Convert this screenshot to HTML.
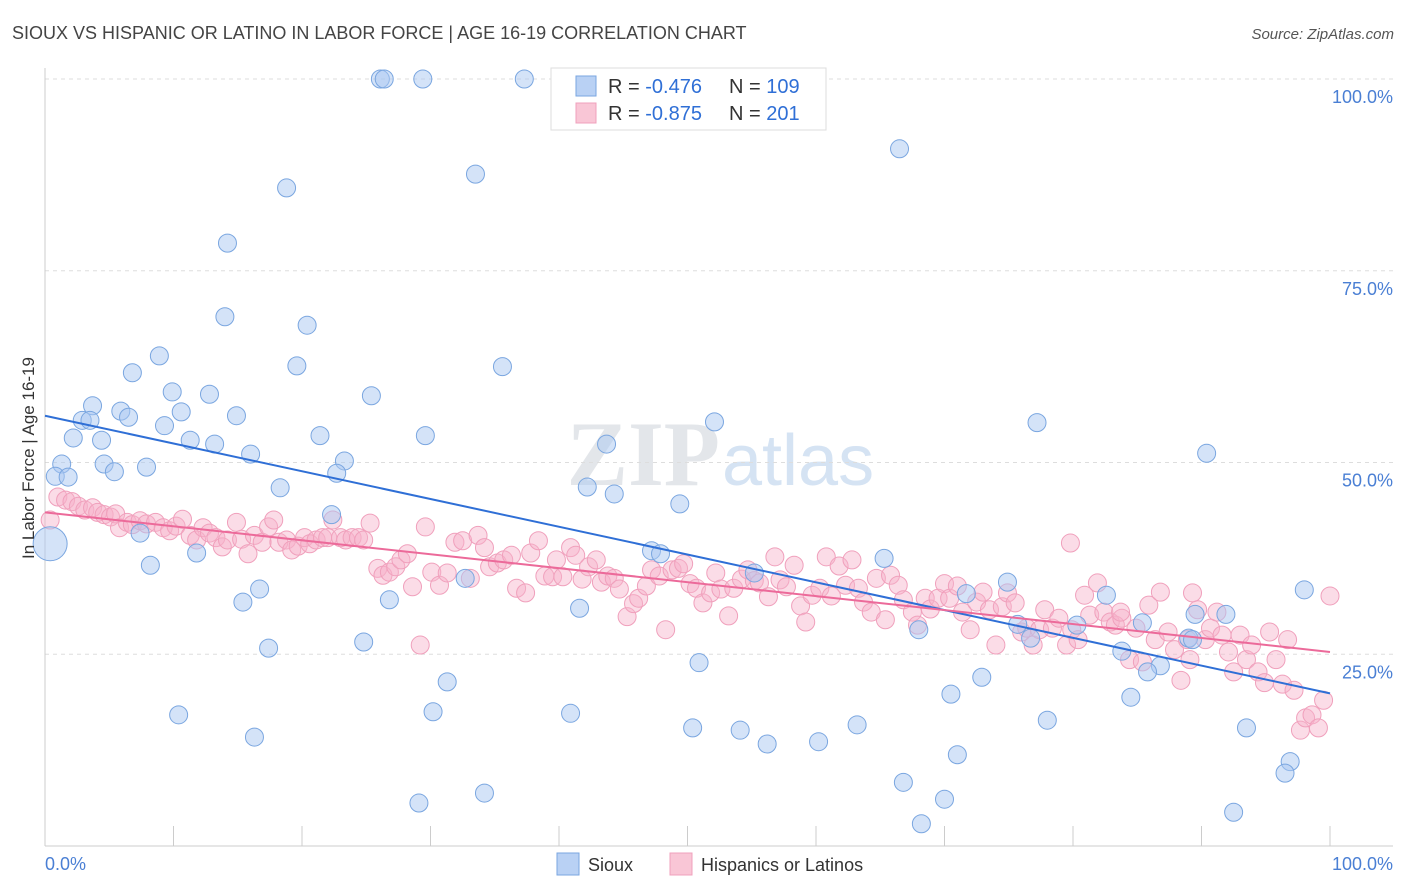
<!DOCTYPE html>
<html><head><meta charset="utf-8"><style>
body{margin:0;background:#fff;font-family:"Liberation Sans",sans-serif;}
svg{display:block}
</style></head><body>
<svg id="chart" width="1406" height="892">
<text x="12" y="39" font-size="18" fill="#444">SIOUX VS HISPANIC OR LATINO IN LABOR FORCE | AGE 16-19 CORRELATION CHART</text>
<text x="1394" y="39" font-size="15" fill="#555" font-style="italic" text-anchor="end">Source: ZipAtlas.com</text>
<text x="720" y="485" font-size="92" fill="#e3e6ea" text-anchor="end" font-family="Liberation Serif,serif" font-weight="bold">ZIP</text>
<text x="722" y="485" font-size="72" fill="#d5e3f3">atlas</text>
<g id="grid"></g>
<g id="pink"></g>
<g id="blue"></g>
<g id="lines"></g>
<text transform="translate(34,458) rotate(-90)" font-size="17" fill="#333" text-anchor="middle">In Labor Force | Age 16-19</text>
<text x="45" y="870" font-size="18" fill="#4a7fd4">0.0%</text>
<text x="1393" y="870" font-size="18" fill="#4a7fd4" text-anchor="end">100.0%</text>
<g>
<rect x="551" y="68" width="275" height="62" fill="#fff" stroke="#ddd"/>
<rect x="576" y="76" width="20" height="20" fill="#b9d1f4" stroke="#7aa6e0"/>
<rect x="576" y="103" width="20" height="20" fill="#f9c6d6" stroke="#f0a0bc"/>
<text x="608" y="93" font-size="20" fill="#333">R = <tspan fill="#2f6fd6">-0.476</tspan></text>
<text x="729" y="93" font-size="20" fill="#333">N = <tspan fill="#2f6fd6">109</tspan></text>
<text x="608" y="120" font-size="20" fill="#333">R = <tspan fill="#2f6fd6">-0.875</tspan></text>
<text x="729" y="120" font-size="20" fill="#333">N = <tspan fill="#2f6fd6">201</tspan></text>
</g>
<g><rect x="557" y="853" width="22" height="22" fill="#b9d1f4" stroke="#7aa6e0"/><text x="588" y="871" font-size="18" fill="#333">Sioux</text></g>
<g><rect x="670" y="853" width="22" height="22" fill="#f9c6d6" stroke="#f0a0bc"/><text x="701" y="871" font-size="18" fill="#333">Hispanics or Latinos</text></g>
</svg>
<script>
const yTicks=[25,50,75,100];
const yTickLabels=["25.0%","50.0%","75.0%","100.0%"];
const xTicks=[10,20,30,40,50,60,70,80,90,100];
const blueX=[26.1,26.4,29.4,37.3,45.5,66.5,33.5,18.8,14.2,14.0,20.4,19.6,35.6,8.9,6.8,9.9,12.8,25.4,3.7,5.9,6.5,2.9,3.5,10.6,14.9,9.3,2.2,4.4,21.4,29.6,52.1,77.2,11.3,13.2,43.7,16.0,1.3,4.6,5.4,7.9,23.3,22.7,0.8,1.8,90.4,18.3,42.2,44.3,49.4,22.3,7.4,11.8,47.2,47.9,65.3,8.2,15.4,16.7,26.8,32.7,55.2,74.9,71.7,82.6,85.4,89.5,91.9,98.0,41.6,17.4,24.8,68.0,75.7,76.7,80.3,83.8,89.0,89.3,86.8,85.8,50.9,31.3,70.5,72.9,84.5,30.2,10.4,40.9,50.4,54.1,56.2,60.2,63.2,78.0,93.5,16.3,71.0,96.9,96.5,66.8,34.2,70.0,29.1,92.5,68.2];
const blueY=[100,100,100,100,100,90.9,87.6,85.8,78.6,69.0,67.9,62.6,62.5,63.9,61.7,59.2,58.9,58.7,57.4,56.7,55.9,55.5,55.5,56.6,56.1,54.8,53.2,52.9,53.5,53.5,55.3,55.2,52.9,52.4,52.4,51.1,49.8,49.8,48.8,49.4,50.2,48.6,48.2,48.1,51.2,46.7,46.8,45.9,44.6,43.2,40.8,38.2,38.5,38.1,37.5,36.6,31.8,33.5,32.1,34.9,35.6,34.4,32.9,32.7,29.1,30.2,30.2,33.4,31.0,25.8,26.6,28.2,28.9,27.1,28.8,25.4,27.1,26.9,23.5,22.7,23.9,21.4,19.8,22.0,19.4,17.5,17.1,17.3,15.4,15.1,13.3,13.6,15.8,16.4,15.4,14.2,11.9,11.0,9.5,8.3,6.9,6.1,5.6,4.4,2.9];
const pinkX=[0.4,1.0,1.6,2.1,2.6,3.1,3.7,4.1,4.6,5.1,5.5,5.8,6.4,6.8,7.4,7.9,8.6,9.2,9.7,10.2,10.7,11.3,11.8,12.3,12.8,13.3,13.8,14.2,14.9,15.3,15.8,16.3,16.9,17.4,17.8,18.2,18.8,19.2,19.7,20.2,20.6,21.1,21.6,22.0,22.4,23.0,23.4,23.9,24.4,24.8,25.3,25.9,26.3,26.8,27.3,27.7,28.2,28.6,29.2,29.6,30.1,30.7,31.3,31.9,32.5,33.1,33.7,34.2,34.6,35.2,35.7,36.3,36.7,37.4,37.8,38.4,38.9,39.5,39.8,40.3,40.9,41.3,41.8,42.3,42.9,43.3,43.8,44.3,44.7,45.3,45.8,46.2,46.8,47.2,47.8,48.3,48.8,49.3,49.7,50.2,50.7,51.2,51.8,52.2,52.6,53.2,53.6,54.2,54.7,55.2,55.6,56.3,56.8,57.2,57.7,58.3,58.8,59.2,59.7,60.3,60.8,61.2,61.8,62.3,62.8,63.3,63.7,64.3,64.7,65.4,65.8,66.4,66.8,67.5,67.9,68.5,68.9,69.5,70.0,70.4,71.0,71.4,72.0,72.5,73.0,73.5,74.0,74.5,74.9,75.5,76.0,76.4,76.9,77.4,77.8,78.4,78.9,79.5,79.9,80.4,80.9,81.3,81.9,82.4,82.9,83.3,83.8,84.4,84.9,85.4,85.9,86.4,86.8,87.4,87.9,88.4,88.9,89.3,89.7,90.3,90.7,91.2,91.6,92.1,92.5,93.0,93.5,93.9,94.4,94.9,95.3,95.8,96.3,96.7,97.2,97.7,98.1,98.6,99.1,99.5,100,79.8,89.1,83.7];
const pinkY=[42.5,45.5,45.1,44.9,44.3,43.8,44.1,43.5,43.2,42.9,43.3,41.5,42.2,41.9,42.4,42.0,42.2,41.5,41.1,41.7,42.6,40.5,39.9,41.5,40.8,40.2,39.0,39.9,42.2,40.0,38.1,40.5,39.6,41.6,42.5,39.6,39.9,38.6,39.1,40.2,39.4,39.9,40.2,40.2,42.5,40.2,39.9,40.2,40.2,39.9,42.1,36.2,35.3,35.7,36.4,37.3,38.1,33.8,26.2,41.6,35.7,34.0,35.6,39.6,39.8,34.9,40.5,38.9,36.4,36.9,37.3,37.9,33.6,33.0,38.2,39.8,35.2,35.1,37.3,35.1,38.9,37.9,34.8,36.4,37.3,34.4,35.2,34.9,33.5,29.9,31.6,32.3,33.9,36.0,35.2,28.2,36.0,36.2,36.8,34.2,33.6,31.7,33.0,35.6,33.5,30.0,33.6,34.8,36.0,34.6,34.3,32.5,37.7,34.7,33.8,36.6,31.3,29.2,32.7,33.6,37.7,32.6,36.5,34.0,37.3,33.6,31.8,30.5,34.9,29.5,35.3,34.0,32.1,30.5,28.8,32.3,30.9,32.3,34.2,32.3,33.9,30.5,28.2,31.8,33.1,30.8,26.2,31.2,33.0,31.7,27.9,28.4,26.2,28.2,30.8,28.4,29.7,26.2,28.2,26.9,32.7,30.1,34.3,30.5,29.2,28.8,29.7,24.3,28.4,24.0,31.4,26.9,33.1,27.9,25.6,21.6,26.9,33.0,30.8,26.9,28.4,30.5,27.5,25.3,22.7,27.5,24.3,26.2,22.7,21.3,27.9,24.3,21.1,26.9,20.3,15.1,16.7,17.1,15.4,19.0,32.6,39.5,24.3,30.5];
const blueTrend=[56.1,19.9];
const pinkTrend=[43.5,25.3];

const X0=45,X1=1330,Y0=846,Y100=79;
const sx=v=>X0+(X1-X0)*v/100;
const sy=v=>Y0-(Y0-Y100)*v/100;
const NS="http://www.w3.org/2000/svg";
function mk(tag,parent,attrs){const e=document.createElementNS(NS,tag);for(const k in attrs)e.setAttribute(k,attrs[k]);parent.appendChild(e);return e;}
const grid=document.getElementById('grid');
yTicks.forEach((t,i)=>{
  const l=mk('line',grid,{x1:45,x2:1393,y1:sy(t),y2:sy(t),stroke:'#ddd','stroke-dasharray':'4,4'});
  
  
  const tx=mk('text',grid,{x:1393,y:sy(t)+24,'font-size':18,fill:'#4a7fd4','text-anchor':'end'});
  tx.textContent=yTickLabels[i];
  
  
});
const ax=mk('line',grid,{x1:45,x2:1393,y1:846,y2:846,stroke:'#ccc'});


const ay=mk('line',grid,{x1:45,x2:45,y1:68,y2:846,stroke:'#ccc'});


xTicks.forEach(t=>{
  const l=mk('line',grid,{x1:sx(t),x2:sx(t),y1:826,y2:846,stroke:'#ccc'});
  
  
});
const pg=document.getElementById('pink');
pinkX.forEach((x,i)=>{
  const c=mk('circle',pg,{cx:sx(x),cy:sy(pinkY[i]),r:9,fill:'rgba(246,178,202,0.45)',stroke:'#f0a0bc','stroke-width':1});
  
  
});
const bg=document.getElementById('blue');
blueX.forEach((x,i)=>{
  const c=mk('circle',bg,{cx:sx(x),cy:sy(blueY[i]),r:9,fill:'rgba(170,200,242,0.5)',stroke:'#7aa6e0','stroke-width':1});
  
  
});
const big=mk('circle',bg,{cx:sx(0.4),cy:sy(39.4),r:17,fill:'rgba(170,200,242,0.5)',stroke:'#7aa6e0'});


const lg=document.getElementById('lines');
const bl=mk('line',lg,{x1:sx(0),y1:sy(blueTrend[0]),x2:sx(100),y2:sy(blueTrend[1]),stroke:'#2f6fd6','stroke-width':2});


const pl=mk('line',lg,{x1:sx(0),y1:sy(pinkTrend[0]),x2:sx(100),y2:sy(pinkTrend[1]),stroke:'#ec6a9a','stroke-width':2});


</script>
</body></html>
